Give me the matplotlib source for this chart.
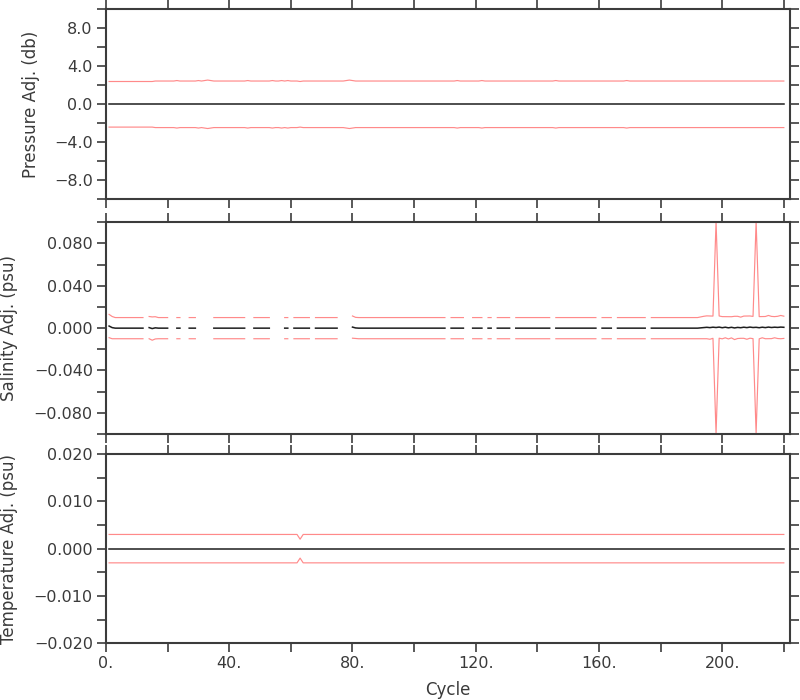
import numpy as np
import matplotlib
matplotlib.use("Agg")
import matplotlib.pyplot as plt
from matplotlib.ticker import MultipleLocator, FixedLocator, FuncFormatter

N = None

# ---------------- data ----------------
cycles = np.arange(1, 221)

pres_adj = [
    0.0, 0.0, 0.0, 0.0, 0.0, 0.0, 0.0, 0.0, 0.0, 0.0, 0.0, 0.0, 0.0, 0.0, 0.0, 0.0, 0.0, 0.0, 0.0, 0.0,
    0.0, 0.0, 0.0, 0.0, 0.0, 0.0, 0.0, 0.0, 0.0, 0.0, 0.0, 0.0, 0.0, 0.0, 0.0, 0.0, 0.0, 0.0, 0.0, 0.0,
    0.0, 0.0, 0.0, 0.0, 0.0, 0.0, 0.0, 0.0, 0.0, 0.0, 0.0, 0.0, 0.0, 0.0, 0.0, 0.0, 0.0, 0.0, 0.0, 0.0,
    0.0, 0.0, 0.0, 0.0, 0.0, 0.0, 0.0, 0.0, 0.0, 0.0, 0.0, 0.0, 0.0, 0.0, 0.0, 0.0, 0.0, 0.0, 0.0, 0.0,
    0.0, 0.0, 0.0, 0.0, 0.0, 0.0, 0.0, 0.0, 0.0, 0.0, 0.0, 0.0, 0.0, 0.0, 0.0, 0.0, 0.0, 0.0, 0.0, 0.0,
    0.0, 0.0, 0.0, 0.0, 0.0, 0.0, 0.0, 0.0, 0.0, 0.0, 0.0, 0.0, 0.0, 0.0, 0.0, 0.0, 0.0, 0.0, 0.0, 0.0,
    0.0, 0.0, 0.0, 0.0, 0.0, 0.0, 0.0, 0.0, 0.0, 0.0, 0.0, 0.0, 0.0, 0.0, 0.0, 0.0, 0.0, 0.0, 0.0, 0.0,
    0.0, 0.0, 0.0, 0.0, 0.0, 0.0, 0.0, 0.0, 0.0, 0.0, 0.0, 0.0, 0.0, 0.0, 0.0, 0.0, 0.0, 0.0, 0.0, 0.0,
    0.0, 0.0, 0.0, 0.0, 0.0, 0.0, 0.0, 0.0, 0.0, 0.0, 0.0, 0.0, 0.0, 0.0, 0.0, 0.0, 0.0, 0.0, 0.0, 0.0,
    0.0, 0.0, 0.0, 0.0, 0.0, 0.0, 0.0, 0.0, 0.0, 0.0, 0.0, 0.0, 0.0, 0.0, 0.0, 0.0, 0.0, 0.0, 0.0, 0.0,
    0.0, 0.0, 0.0, 0.0, 0.0, 0.0, 0.0, 0.0, 0.0, 0.0, 0.0, 0.0, 0.0, 0.0, 0.0, 0.0, 0.0, 0.0, 0.0, 0.0,
]

pres_err = [
    2.40, 2.40, 2.40, 2.40, 2.40, 2.40, 2.40, 2.40, 2.40, 2.40, 2.40, 2.40, 2.40, 2.40, 2.40, 2.45, 2.45, 2.45, 2.45, 2.45,
    2.45, 2.45, 2.50, 2.45, 2.45, 2.45, 2.45, 2.45, 2.45, 2.50, 2.45, 2.50, 2.55, 2.50, 2.45, 2.45, 2.45, 2.45, 2.45, 2.45,
    2.45, 2.45, 2.45, 2.45, 2.45, 2.50, 2.45, 2.45, 2.45, 2.45, 2.45, 2.45, 2.45, 2.50, 2.45, 2.45, 2.50, 2.45, 2.50, 2.45,
    2.45, 2.45, 2.40, 2.45, 2.45, 2.45, 2.45, 2.45, 2.45, 2.45, 2.45, 2.45, 2.45, 2.45, 2.45, 2.45, 2.45, 2.50, 2.55, 2.50,
    2.45, 2.45, 2.45, 2.45, 2.45, 2.45, 2.45, 2.45, 2.45, 2.45, 2.45, 2.45, 2.45, 2.45, 2.45, 2.45, 2.45, 2.45, 2.45, 2.45,
    2.45, 2.45, 2.45, 2.45, 2.45, 2.45, 2.45, 2.45, 2.45, 2.45, 2.45, 2.45, 2.45, 2.50, 2.45, 2.45, 2.45, 2.45, 2.45, 2.45,
    2.45, 2.50, 2.45, 2.45, 2.45, 2.45, 2.45, 2.45, 2.45, 2.45, 2.45, 2.45, 2.45, 2.45, 2.45, 2.45, 2.45, 2.45, 2.45, 2.45,
    2.45, 2.45, 2.45, 2.45, 2.45, 2.50, 2.45, 2.45, 2.45, 2.45, 2.45, 2.45, 2.45, 2.45, 2.45, 2.45, 2.45, 2.45, 2.45, 2.45,
    2.45, 2.45, 2.45, 2.45, 2.45, 2.45, 2.45, 2.45, 2.50, 2.45, 2.45, 2.45, 2.45, 2.45, 2.45, 2.45, 2.45, 2.45, 2.45, 2.45,
    2.45, 2.45, 2.45, 2.45, 2.45, 2.45, 2.45, 2.45, 2.45, 2.45, 2.45, 2.45, 2.45, 2.45, 2.45, 2.45, 2.45, 2.45, 2.45, 2.45,
    2.45, 2.45, 2.45, 2.45, 2.45, 2.45, 2.45, 2.45, 2.45, 2.45, 2.45, 2.45, 2.45, 2.45, 2.45, 2.45, 2.45, 2.45, 2.45, 2.45,
]

sal_adj = [
    0.002, 0.0005, 0.0, 0.0, 0.0, 0.0, 0.0, 0.0, 0.0, 0.0, 0.0, 0.0, N, 0.0005, -0.0004, 0.0003, 0.0, 0.0, 0.0, 0.0,
    N, N, 0.0, 0.0, N, N, 0.0, 0.0, 0.0, N, N, N, N, N, 0.0, 0.0, 0.0, 0.0, 0.0, 0.0,
    0.0, 0.0, 0.0, 0.0, 0.0, N, N, 0.0, 0.0, 0.0, 0.0, 0.0, 0.0, N, N, N, N, 0.0, 0.0, N,
    0.0, 0.0, 0.0, 0.0, 0.0, 0.0, N, 0.0, 0.0, 0.0, 0.0, 0.0, 0.0, 0.0, 0.0, N, N, N, N, 0.001,
    0.0002, 0.0, 0.0, 0.0, 0.0, 0.0, 0.0, 0.0, 0.0, 0.0, 0.0, 0.0, 0.0, 0.0, 0.0, 0.0, 0.0, 0.0, 0.0, 0.0,
    0.0, 0.0, 0.0, 0.0, 0.0, 0.0, 0.0, 0.0, 0.0, 0.0, N, 0.0, 0.0, 0.0, 0.0, 0.0, N, N, 0.0, 0.0,
    0.0, 0.0, N, 0.0, 0.0, N, 0.0, 0.0, 0.0, 0.0, 0.0, N, 0.0, 0.0, 0.0, 0.0, 0.0, 0.0, 0.0, 0.0,
    0.0, 0.0, 0.0, 0.0, N, 0.0, 0.0, 0.0, 0.0, 0.0, 0.0, 0.0, 0.0, 0.0, 0.0, 0.0, 0.0, 0.0, 0.0, N,
    0.0, 0.0, 0.0, 0.0, N, 0.0, 0.0, 0.0, 0.0, 0.0, 0.0, 0.0, 0.0, 0.0, 0.0, N, 0.0, 0.0, 0.0, 0.0,
    0.0, 0.0, 0.0, 0.0, 0.0, 0.0, 0.0, 0.0, 0.0, 0.0, 0.0, 0.0, 0.0003, 0.0006, 0.0008, 0.0005, 0.0009, 0.0006, 0.0010, 0.0004,
    0.0009, 0.0003, 0.0008, 0.0002, 0.0007, 0.0004, 0.0009, 0.0005, 0.0010, 0.0006, 0.0008, 0.0004, 0.0009, 0.0005, 0.0010, 0.0006, 0.0009, 0.0007, 0.0010, 0.0008,
]

sal_err = [
    0.011, 0.0105, 0.010, 0.010, 0.010, 0.010, 0.010, 0.010, 0.010, 0.010, 0.010, 0.010, 0.010, 0.0105, 0.011, 0.0105, 0.010, 0.010, 0.010, 0.010,
    0.010, 0.010, 0.010, 0.010, 0.010, 0.010, 0.010, 0.010, 0.010, 0.010, 0.010, 0.010, 0.010, 0.010, 0.010, 0.010, 0.010, 0.010, 0.010, 0.010,
    0.010, 0.010, 0.010, 0.010, 0.010, 0.010, 0.010, 0.010, 0.010, 0.010, 0.010, 0.010, 0.010, 0.010, 0.010, 0.010, 0.010, 0.010, 0.010, 0.010,
    0.010, 0.010, 0.010, 0.010, 0.010, 0.010, 0.010, 0.010, 0.010, 0.010, 0.010, 0.010, 0.010, 0.010, 0.010, 0.010, 0.010, 0.010, 0.010, 0.0105,
    0.010, 0.010, 0.010, 0.010, 0.010, 0.010, 0.010, 0.010, 0.010, 0.010, 0.010, 0.010, 0.010, 0.010, 0.010, 0.010, 0.010, 0.010, 0.010, 0.010,
    0.010, 0.010, 0.010, 0.010, 0.010, 0.010, 0.010, 0.010, 0.010, 0.010, 0.010, 0.010, 0.010, 0.010, 0.010, 0.010, 0.010, 0.010, 0.010, 0.010,
    0.010, 0.010, 0.010, 0.010, 0.010, 0.010, 0.010, 0.010, 0.010, 0.010, 0.010, 0.010, 0.010, 0.010, 0.010, 0.010, 0.010, 0.010, 0.010, 0.010,
    0.010, 0.010, 0.010, 0.010, 0.010, 0.010, 0.010, 0.010, 0.010, 0.010, 0.010, 0.010, 0.010, 0.010, 0.010, 0.010, 0.010, 0.010, 0.010, 0.010,
    0.010, 0.010, 0.010, 0.010, 0.010, 0.010, 0.010, 0.010, 0.010, 0.010, 0.010, 0.010, 0.010, 0.010, 0.010, 0.010, 0.010, 0.010, 0.010, 0.010,
    0.010, 0.010, 0.010, 0.010, 0.010, 0.010, 0.010, 0.010, 0.010, 0.010, 0.010, 0.010, 0.0103, 0.0106, 0.0108, 0.0110, 0.0105, 0.100, 0.0105, 0.0105,
    0.0100, 0.0105, 0.0100, 0.0110, 0.0105, 0.0100, 0.0105, 0.0110, 0.0105, 0.0105, 0.100, 0.0105, 0.0100, 0.0105, 0.0110, 0.0105, 0.0100, 0.0105, 0.0110, 0.0105,
]

temp_adj = [
    0.0, 0.0, 0.0, 0.0, 0.0, 0.0, 0.0, 0.0, 0.0, 0.0, 0.0, 0.0, 0.0, 0.0, 0.0, 0.0, 0.0, 0.0, 0.0, 0.0,
    0.0, 0.0, 0.0, 0.0, 0.0, 0.0, 0.0, 0.0, 0.0, 0.0, 0.0, 0.0, 0.0, 0.0, 0.0, 0.0, 0.0, 0.0, 0.0, 0.0,
    0.0, 0.0, 0.0, 0.0, 0.0, 0.0, 0.0, 0.0, 0.0, 0.0, 0.0, 0.0, 0.0, 0.0, 0.0, 0.0, 0.0, 0.0, 0.0, 0.0,
    0.0, 0.0, 0.0, 0.0, 0.0, 0.0, 0.0, 0.0, 0.0, 0.0, 0.0, 0.0, 0.0, 0.0, 0.0, 0.0, 0.0, 0.0, 0.0, 0.0,
    0.0, 0.0, 0.0, 0.0, 0.0, 0.0, 0.0, 0.0, 0.0, 0.0, 0.0, 0.0, 0.0, 0.0, 0.0, 0.0, 0.0, 0.0, 0.0, 0.0,
    0.0, 0.0, 0.0, 0.0, 0.0, 0.0, 0.0, 0.0, 0.0, 0.0, 0.0, 0.0, 0.0, 0.0, 0.0, 0.0, 0.0, 0.0, 0.0, 0.0,
    0.0, 0.0, 0.0, 0.0, 0.0, 0.0, 0.0, 0.0, 0.0, 0.0, 0.0, 0.0, 0.0, 0.0, 0.0, 0.0, 0.0, 0.0, 0.0, 0.0,
    0.0, 0.0, 0.0, 0.0, 0.0, 0.0, 0.0, 0.0, 0.0, 0.0, 0.0, 0.0, 0.0, 0.0, 0.0, 0.0, 0.0, 0.0, 0.0, 0.0,
    0.0, 0.0, 0.0, 0.0, 0.0, 0.0, 0.0, 0.0, 0.0, 0.0, 0.0, 0.0, 0.0, 0.0, 0.0, 0.0, 0.0, 0.0, 0.0, 0.0,
    0.0, 0.0, 0.0, 0.0, 0.0, 0.0, 0.0, 0.0, 0.0, 0.0, 0.0, 0.0, 0.0, 0.0, 0.0, 0.0, 0.0, 0.0, 0.0, 0.0,
    0.0, 0.0, 0.0, 0.0, 0.0, 0.0, 0.0, 0.0, 0.0, 0.0, 0.0, 0.0, 0.0, 0.0, 0.0, 0.0, 0.0, 0.0, 0.0, 0.0,
]

temp_err = [
    0.003, 0.003, 0.003, 0.003, 0.003, 0.003, 0.003, 0.003, 0.003, 0.003, 0.003, 0.003, 0.003, 0.003, 0.003, 0.003, 0.003, 0.003, 0.003, 0.003,
    0.003, 0.003, 0.003, 0.003, 0.003, 0.003, 0.003, 0.003, 0.003, 0.003, 0.003, 0.003, 0.003, 0.003, 0.003, 0.003, 0.003, 0.003, 0.003, 0.003,
    0.003, 0.003, 0.003, 0.003, 0.003, 0.003, 0.003, 0.003, 0.003, 0.003, 0.003, 0.003, 0.003, 0.003, 0.003, 0.003, 0.003, 0.003, 0.003, 0.003,
    0.003, 0.003, 0.002, 0.003, 0.003, 0.003, 0.003, 0.003, 0.003, 0.003, 0.003, 0.003, 0.003, 0.003, 0.003, 0.003, 0.003, 0.003, 0.003, 0.003,
    0.003, 0.003, 0.003, 0.003, 0.003, 0.003, 0.003, 0.003, 0.003, 0.003, 0.003, 0.003, 0.003, 0.003, 0.003, 0.003, 0.003, 0.003, 0.003, 0.003,
    0.003, 0.003, 0.003, 0.003, 0.003, 0.003, 0.003, 0.003, 0.003, 0.003, 0.003, 0.003, 0.003, 0.003, 0.003, 0.003, 0.003, 0.003, 0.003, 0.003,
    0.003, 0.003, 0.003, 0.003, 0.003, 0.003, 0.003, 0.003, 0.003, 0.003, 0.003, 0.003, 0.003, 0.003, 0.003, 0.003, 0.003, 0.003, 0.003, 0.003,
    0.003, 0.003, 0.003, 0.003, 0.003, 0.003, 0.003, 0.003, 0.003, 0.003, 0.003, 0.003, 0.003, 0.003, 0.003, 0.003, 0.003, 0.003, 0.003, 0.003,
    0.003, 0.003, 0.003, 0.003, 0.003, 0.003, 0.003, 0.003, 0.003, 0.003, 0.003, 0.003, 0.003, 0.003, 0.003, 0.003, 0.003, 0.003, 0.003, 0.003,
    0.003, 0.003, 0.003, 0.003, 0.003, 0.003, 0.003, 0.003, 0.003, 0.003, 0.003, 0.003, 0.003, 0.003, 0.003, 0.003, 0.003, 0.003, 0.003, 0.003,
    0.003, 0.003, 0.003, 0.003, 0.003, 0.003, 0.003, 0.003, 0.003, 0.003, 0.003, 0.003, 0.003, 0.003, 0.003, 0.003, 0.003, 0.003, 0.003, 0.003,
]

ylabels = ["Pressure Adj. (db)", "Salinity Adj. (psu)", "Temperature Adj. (psu)"]
xlabel = "Cycle"

# ---------------- styling ----------------
AXC = "#3c3c3c"
TXT = "#3a3a3a"
RED = "#ff8a8a"
BLK = "#1e1e1e"

plt.rcParams["font.family"] = ["DejaVu Sans"]

fig = plt.figure(figsize=(8, 7), dpi=100)
W = 800.0
H = 700.0
L = 106 / W
WID = (790 - 106) / W
boxes = [
    (9.3, 199.3),
    (222.3, 434.0),
    (454.0, 643.3),
]
axes = []
for top, bot in boxes:
    ax = fig.add_axes([L, 1 - bot / H, WID, (bot - top) / H])
    axes.append(ax)

def minus(s):
    return s.replace("-", "\u2212")

specs = [
    dict(adj=pres_adj, err=pres_err, lim=10, major=[-8, -4, 0, 4, 8], minor=[-10, -6, -2, 2, 6, 10], fmt="%.1f", lx=-0.0965),
    dict(adj=sal_adj, err=sal_err, lim=0.1, major=[-0.08, -0.04, 0, 0.04, 0.08], minor=[-0.1, -0.06, -0.02, 0.02, 0.06, 0.1], fmt="%.3f", lx=-0.1287),
    dict(adj=temp_adj, err=temp_err, lim=0.02, major=[-0.02, -0.01, 0, 0.01, 0.02], minor=[-0.015, -0.005, 0.005, 0.015], fmt="%.3f", lx=-0.1287),
]

for i, (ax, sp) in enumerate(zip(axes, specs)):
    adj = np.array(sp["adj"], dtype=float)
    err = np.array(sp["err"], dtype=float)
    ax.plot(cycles, adj + err, color=RED, lw=0.85, zorder=2)
    ax.plot(cycles, adj - err, color=RED, lw=0.85, zorder=2)
    ax.plot(cycles, adj, color=BLK, lw=1.1, zorder=3)
    ax.set_xlim(0, 222)
    ax.set_ylim(-sp["lim"], sp["lim"])
    ax.yaxis.set_major_locator(FixedLocator(sp["major"]))
    ax.yaxis.set_minor_locator(FixedLocator(sp["minor"]))
    f = sp["fmt"]
    ax.yaxis.set_major_formatter(FuncFormatter(lambda v, p, f=f: minus(f % v)))
    ax.xaxis.set_major_locator(MultipleLocator(40))
    ax.xaxis.set_minor_locator(FixedLocator([20, 60, 100, 140, 180, 220]))
    ax.xaxis.set_major_formatter(FuncFormatter(lambda v, p: "%d." % v))
    for s in ax.spines.values():
        s.set_color(AXC)
        s.set_linewidth(1.5)
    ax.tick_params(which="both", direction="out", length=6.5, width=1.2, color=AXC,
                   top=True, right=True, labelsize=11.5, labelcolor=TXT, pad=3)
    ax.tick_params(labelbottom=(i == 2))
    ax.set_ylabel(ylabels[i], fontsize=12, color=TXT)
    ax.yaxis.set_label_coords(sp["lx"], 0.5)

axes[2].set_xlabel(xlabel, fontsize=12, color=TXT, labelpad=7)

fig.savefig("out.png", dpi=100)
